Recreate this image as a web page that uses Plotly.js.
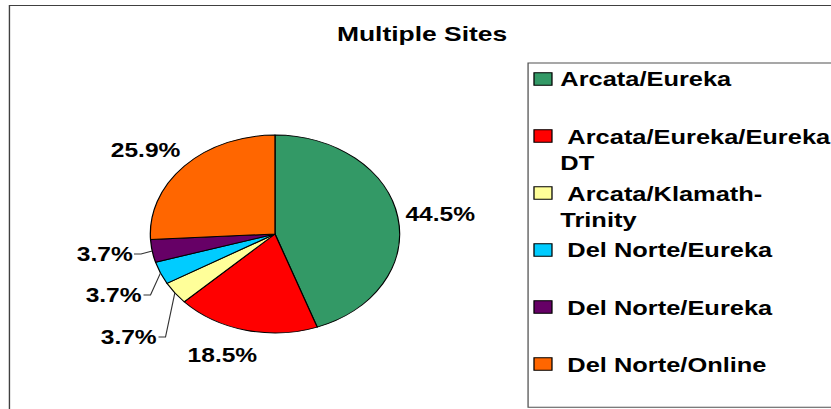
<!DOCTYPE html>
<html><head><meta charset="utf-8">
<script src="https://cdn.plot.ly/plotly-3.0.1.min.js"></script>
<style>
html,body{margin:0;padding:0;overflow:hidden;background:#fff;}
#chart{width:660px;height:409px;transform:scaleX(1.2591);transform-origin:0 0;}
</style></head><body><div id="chart"></div>
<script>
const chartTitle = "Multiple Sites";
const categories = ["Arcata/Eureka","Arcata/Eureka/Eureka DT","Arcata/Klamath-Trinity","Del Norte/Eureka","Del Norte/Eureka","Del Norte/Online"];
const legendLabels = ["Arcata/Eureka","\u00a0Arcata/Eureka/Eureka<br>DT","\u00a0Arcata/Klamath-<br>Trinity","\u00a0Del Norte/Eureka","\u00a0Del Norte/Eureka","\u00a0Del Norte/Online"];
const shares = [44.5, 18.5, 3.7, 3.7, 3.7, 25.9];
const colors = ["#339966","#FF0000","#FFFF99","#00CCFF","#660066","#FF6600"];

// layout only: label centres on screen (x already stretched), per slice
const labelCentres = [[440,214],[222,355],[128.5,337],[113.5,295],[104,254],[145,150]];

const S = 1.2591;
const W = 660, H = 409;
const FONT = "Liberation Sans, Arial, sans-serif";
const px = v => v / W;           // pre-stretch pixel -> paper
const py = v => 1 - v / H;
const sx = v => v / S;           // screen x -> pre-stretch x

const CX = 218.4, CY = 234, R = 99;

const shapes = [
  {type:'rect', xref:'paper', yref:'paper', x0:px(7.5), x1:1.05, y0:-0.05, y1:py(5.5),
   line:{color:'#404040', width:1.1}, fillcolor:'rgba(0,0,0,0)'},
  {type:'rect', xref:'paper', yref:'paper', x0:px(419.4), x1:1.05, y0:py(407.3), y1:py(63),
   line:{color:'#505050', width:1}, fillcolor:'rgba(0,0,0,0)'}
];
const annotations = [];
const LFS = 20.2;
const LH = 1.3 * LFS;
legendLabels.forEach((lab, i) => {
  const c = 79 + 57 * i;
  shapes.push({type:'rect', xref:'paper', yref:'paper', x0:px(424.1), x1:px(438.4),
    y0:py(c + 6.3), y1:py(c - 6.3), fillcolor:colors[i], line:{color:'#000', width:1}});
  const n = lab.split('<br>').length;
  annotations.push({xref:'paper', yref:'paper', x:px(443), y:py(c + 0.5 + (n - 1) * LH / 2),
    xanchor:'left', yanchor:'middle', align:'left', showarrow:false, text:lab,
    font:{family:FONT, size:LFS, color:'#000', weight:'bold'}});
});

// percentage labels, with leader lines for thin slices
const total = shares.reduce((a, b) => a + b, 0);
let cum = 0;
shares.forEach((v, i) => {
  const frac = v / total;
  const mid = (cum + frac / 2) * 2 * Math.PI;   // clockwise from 12 o'clock
  cum += frac;
  const ex = CX + R * Math.sin(mid), ey = CY - R * Math.cos(mid);
  const [lx, ly] = labelCentres[i];
  annotations.push({xref:'paper', yref:'paper', x:px(sx(lx)), y:py(ly),
    xanchor:'center', yanchor:'middle', showarrow:false,
    text:(frac * 100).toFixed(1) + '%',
    font:{family:FONT, size:19.5, color:'#000', weight:'bold'}});
  if (frac < 0.05) {
    const right = lx + 28;
    const elbowX = px(sx(right + 9)), endX = px(sx(right + 2));
    shapes.push({type:'path', xref:'paper', yref:'paper',
      path:'M' + px(ex) + ',' + py(ey) + ' L' + elbowX + ',' + py(ly) + ' L' + endX + ',' + py(ly),
      line:{color:'#333', width:0.9}});
  }
});

const data = [{
  type:'pie', values:shares, labels:categories.map((c, i) => c + ' #' + (i + 1)),
  hovertext:categories, sort:false, direction:'clockwise', rotation:0,
  marker:{colors:colors, line:{color:'#000', width:1}},
  textinfo:'none',
  domain:{x:[px(CX - R), px(CX + R)], y:[(H - CY - R) / H, (H - CY + R) / H]},
  showlegend:false, hoverinfo:'skip'
}];

const layout = {
  width:W, height:H, margin:{l:0, r:0, t:0, b:0},
  paper_bgcolor:'#fff', plot_bgcolor:'#fff', showlegend:false,
  title:{text:chartTitle, x:px(335.2), xanchor:'center', y:py(34), yanchor:'middle',
    font:{family:FONT, size:21, color:'#000', weight:'bold'}},
  shapes:shapes, annotations:annotations
};
Plotly.newPlot('chart', data, layout, {staticPlot:true, displayModeBar:false});
</script></body></html>
